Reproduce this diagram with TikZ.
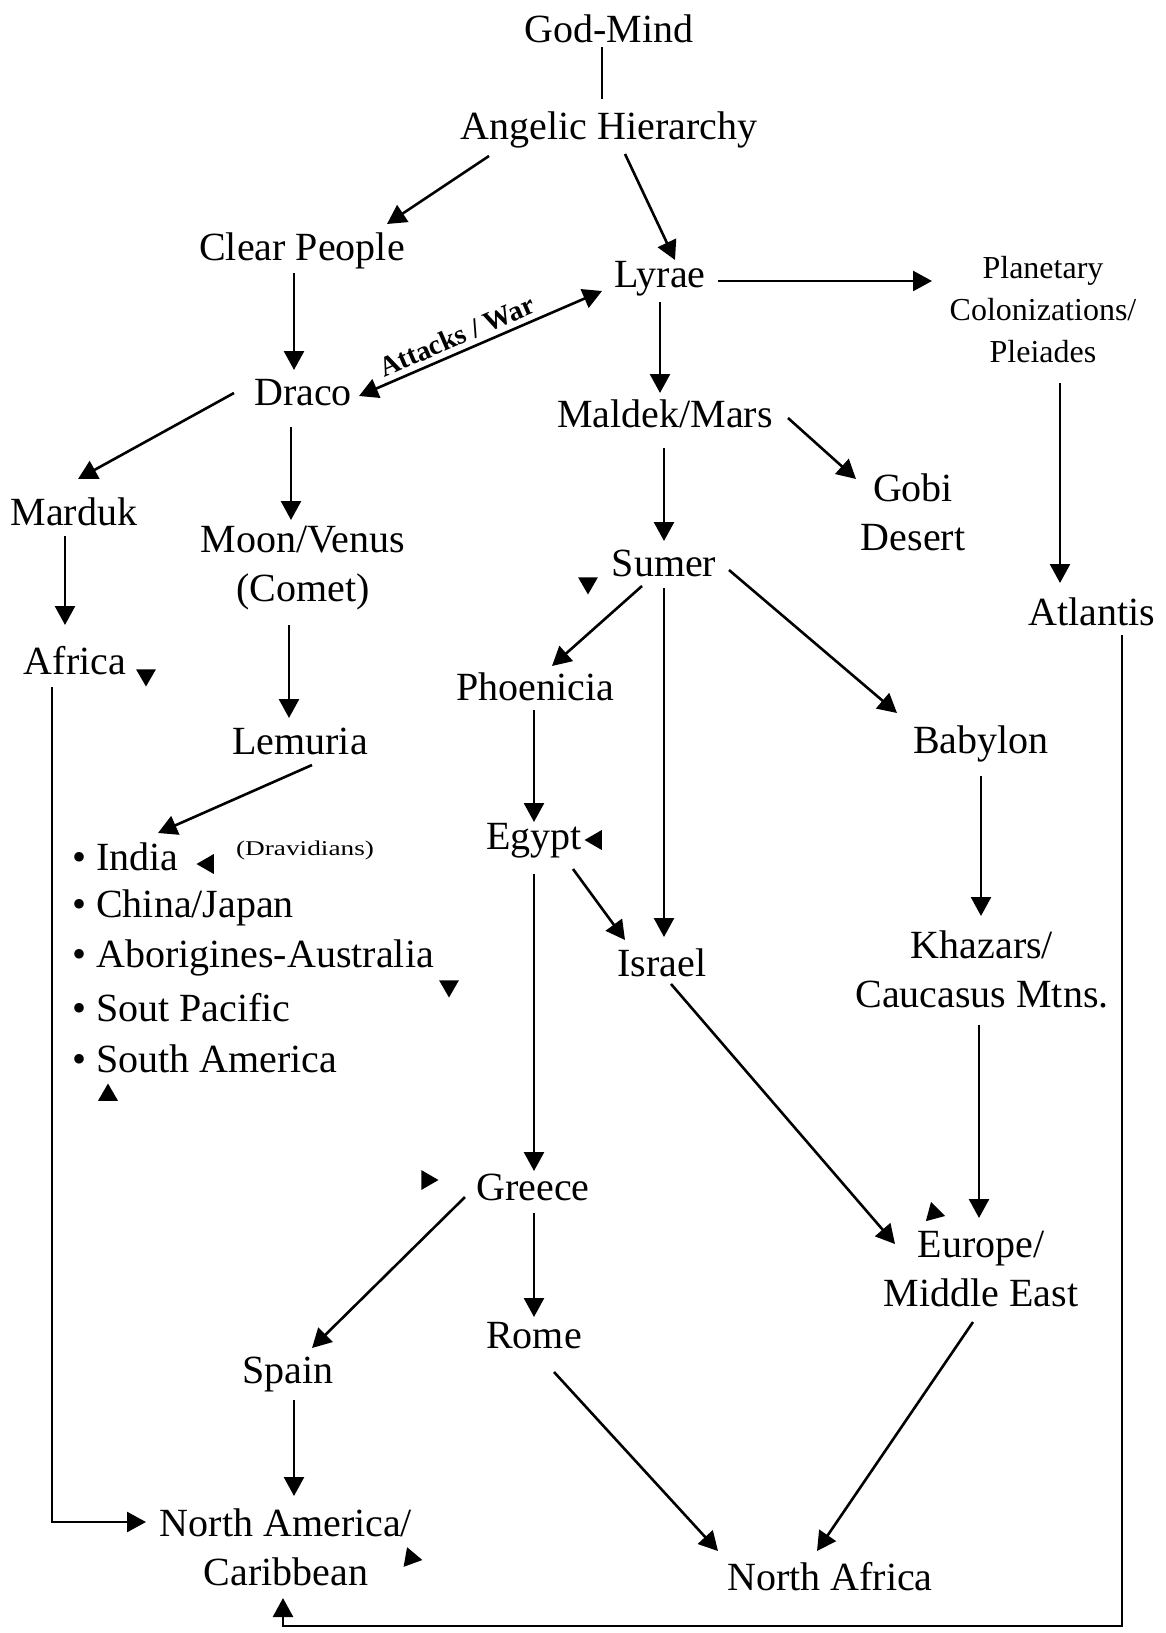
\documentclass[tikz,border=0pt]{standalone}
\usepackage{fontspec}
\setmainfont{Liberation Serif}
\usetikzlibrary{arrows.meta,shapes.geometric}
\begin{document}
\begin{tikzpicture}[x=1pt,y=-1pt,
  lbl/.style={font=\fontsize{40}{49}\selectfont, inner sep=0pt, align=center},
  smalltxt/.style={font=\fontsize{32}{42}\selectfont, inner sep=0pt, align=center},
  listitem/.style={font=\fontsize{40}{49}\selectfont, inner sep=0pt, anchor=west},
  conn/.style={line width=2.6pt, -{Triangle[width=20pt,length=19pt]}},
  twoway/.style={line width=2.6pt, {Triangle[width=20pt,length=19pt]}-{Triangle[width=20pt,length=19pt]}},
  plainline/.style={line width=2.6pt},
  tri/.style={regular polygon, regular polygon sides=3, fill=black, inner sep=0pt, minimum size=23pt}
]
\useasboundingbox (0,0) rectangle (1165,1633);

% nodes
\node[lbl] (god) at (609,29) {God-Mind};
\node[lbl] (ang) at (609,130) {Angelic Hierarchy};
\node[lbl] (clear) at (302,251) {Clear People};
\node[lbl] (lyrae) at (660,279) {Lyrae};
\node[smalltxt] (plan) at (1043,310) {Planetary\\Colonizations/\\Pleiades};
\node[lbl] (draco) at (303,393) {Draco};
\node[lbl] (maldek) at (665,414) {Maldek/Mars};
\node[lbl] (gobi) at (913,512) {Gobi\\Desert};
\node[lbl] (marduk) at (74,512) {Marduk};
\node[lbl] (moon) at (303,568) {Moon/Venus\\(Comet)};
\node[lbl] (sumer) at (664,563) {Sumer};
\node[lbl] (atlantis) at (1092,612) {Atlantis};
\node[lbl] (africa) at (75,661) {Africa};
\node[lbl] (phoen) at (535,687) {Phoenicia};
\node[lbl] (babylon) at (981,744) {Babylon};
\node[lbl] (lemuria) at (300,741) {Lemuria};
\node[listitem] (india) at (72,857) {\textbullet\ India};
\node[listitem] (china) at (72,908) {\textbullet\ China/Japan};
\node[listitem] (abor) at (72,958) {\textbullet\ Aborigines-Australia};
\node[listitem] (pacific) at (72,1008) {\textbullet\ Sout Pacific};
\node[listitem] (samer) at (72,1059) {\textbullet\ South America};
\node[inner sep=0pt, font=\fontsize{21}{25}\selectfont] (drav) at (305,850) {\scalebox{1.3}[1]{(Dravidians)}};
\node[lbl] (egypt) at (534,841) {Egypt};
\node[lbl] (israel) at (662,963) {Israel};
\node[lbl] (khazars) at (982,969) {Khazars/\\Caucasus Mtns.};
\node[lbl] (greece) at (533,1187) {Greece};
\node[lbl] (europe) at (981,1269) {Europe/\\Middle East};
\node[lbl] (rome) at (534,1336) {Rome};
\node[lbl] (spain) at (288,1374) {Spain};
\node[lbl] (namer) at (286,1547) {North America/\\Caribbean};
\node[lbl] (nafrica) at (830,1577) {North Africa};

% stray triangle markers
\node[tri, shape border rotate=180] (m1) at (146,675) {};
\node[tri, shape border rotate=180] (m2) at (588,583) {};
\node[tri, shape border rotate=90] (m3) at (208,864) {};
\node[tri, shape border rotate=90] (m4) at (596,840) {};
\node[tri, shape border rotate=180] (m5) at (449,986) {};
\node[tri] (m6) at (108,1095) {};
\node[tri, shape border rotate=-90] (m7) at (427,1180) {};
\node[tri, shape border rotate=15] (m8) at (934,1213) {};
\node[tri, shape border rotate=20] (m9) at (411,1558) {};

% connectors
\draw[plainline] ([shift={(-7,18)}]god.center) -- ([shift={(-7,-31)}]ang.center);
\draw[conn] ([shift={(-120,26)}]ang.center) -- ([shift={(85,-27)}]clear.center);
\draw[conn] ([shift={(16,24)}]ang.center) -- ([shift={(15,-19)}]lyrae.center);
\draw[conn] ([shift={(-8,22)}]clear.center) -- ([shift={(-9,-23)}]draco.center);
\draw[conn] ([shift={(58,2)}]lyrae.center) -- ([shift={(-111,-29)}]plan.center);
\draw[twoway] ([shift={(56,3)}]draco.center) -- node[pos=0.43, sloped, above=5pt, inner sep=0pt, font=\bfseries\fontsize{28}{32}\selectfont] {Attacks / War} ([shift={(-58,12)}]lyrae.center);
\draw[conn] ([shift={(-69,0)}]draco.center) -- ([shift={(4,-33)}]marduk.center);
\draw[conn] ([shift={(-12,34)}]draco.center) -- ([shift={(-12,-48)}]moon.center);
\draw[conn] ([shift={(0,23)}]lyrae.center) -- ([shift={(-5,-21)}]maldek.center);
\draw[conn] ([shift={(123,4)}]maldek.center) -- ([shift={(-57,-33)}]gobi.center);
\draw[conn] ([shift={(-1,34)}]maldek.center) -- ([shift={(0,-22)}]sumer.center);
\draw[conn] ([shift={(17,73)}]plan.center) -- ([shift={(-32,-29)}]atlantis.center);
\draw[conn] ([shift={(-9,24)}]marduk.center) -- ([shift={(-10,-36)}]africa.center);
\draw[conn] ([shift={(-14,57)}]moon.center) -- ([shift={(-11,-23)}]lemuria.center);
\draw[conn] ([shift={(-22,23)}]sumer.center) -- ([shift={(17,-21)}]phoen.center);
\draw[conn] ([shift={(0,25)}]sumer.center) -- ([shift={(2,-26)}]israel.center);
\draw[conn] ([shift={(65,7)}]sumer.center) -- ([shift={(-84,-31)}]babylon.center);
\draw[conn] ([shift={(12,24)}]lemuria.center) -- ([shift={(86,-24)}]india.west);
\draw[conn] ([shift={(-1,23)}]phoen.center) -- ([shift={(0,-19)}]egypt.center);
\draw[conn] ([shift={(39,28)}]egypt.center) -- ([shift={(-37,-23)}]israel.center);
\draw[conn] ([shift={(0,33)}]egypt.center) -- ([shift={(1,-16)}]greece.center);
\draw[conn] ([shift={(0,32)}]babylon.center) -- ([shift={(-1,-53)}]khazars.center);
\draw[conn] ([shift={(9,21)}]israel.center) -- ([shift={(-86,-25)}]europe.center);
\draw[conn] ([shift={(-3,56)}]khazars.center) -- ([shift={(-2,-51)}]europe.center);
\draw[conn] ([shift={(-68,10)}]greece.center) -- ([shift={(24,-26)}]spain.center);
\draw[conn] ([shift={(1,26)}]greece.center) -- ([shift={(0,-19)}]rome.center);
\draw[conn] ([shift={(6,26)}]spain.center) -- ([shift={(8,-51)}]namer.center);
\draw[conn] ([shift={(20,36)}]rome.center) -- ([shift={(-112,-26)}]nafrica.center);
\draw[conn] ([shift={(-8,53)}]europe.center) -- ([shift={(-13,-26)}]nafrica.center);
\draw[conn] ([shift={(-23,26)}]africa.center) |- ([shift={(-140,-25)}]namer.center);
\draw[conn] ([shift={(30,23)}]atlantis.center) -- ([shift={(30,1014)}]atlantis.center) -| ([shift={(-3,51)}]namer.center);
\end{tikzpicture}
\end{document}
